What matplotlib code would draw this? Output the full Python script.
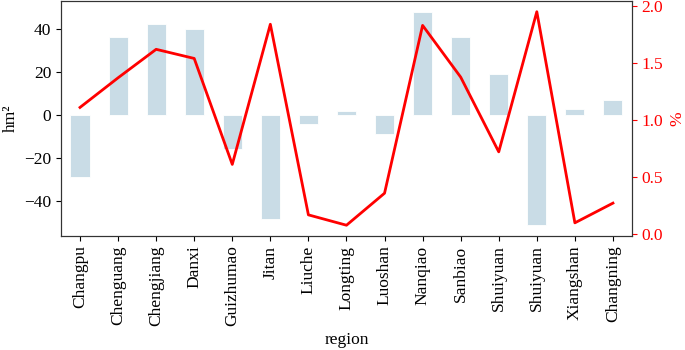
import matplotlib
matplotlib.use("Agg")
import matplotlib.pyplot as plt
import numpy as np

plt.rcParams['font.family'] = ['Liberation Serif', 'DejaVu Serif']
plt.rcParams['font.size'] = 12.5

regions = ["Changpu", "Chenguang", "Chengjiang", "Danxi", "Guizhumao", "Jitan",
           "Liuche", "Longting", "Luoshan", "Nanqiao", "Sanbiao", "Shuiyuan",
           "Shuiyuan", "Xiangshan", "Changning"]
area_change = [-29.0, 36.0, 42.3, 40.0, -15.9, -48.4, -4.3, 1.6, -9.0, 47.9,
               36.0, 18.9, -51.4, 2.6, 6.9]
percent = [1.11, 1.37, 1.62, 1.54, 0.61, 1.84, 0.167, 0.076, 0.357, 1.83,
           1.376, 0.72, 1.95, 0.097, 0.27]

fig = plt.figure(figsize=(6.85, 3.5), dpi=100)
ax = fig.add_axes([0.089, 0.326, 0.8336, 0.671])
x = np.arange(len(regions))
ax.bar(x, area_change, width=0.5, color='#c9dce6', edgecolor='white', linewidth=0.6)
ax.set_xlim(-0.5, len(regions) - 0.5)
ax.set_xticks(x)
ax.set_xticklabels(regions, rotation=90)
ax.set_ylabel('hm²')
ax.set_xlabel('region')
ax.set_yticks([-40, -20, 0, 20, 40])
for s in ax.spines.values():
    s.set_color('#333333')

ax2 = ax.twinx()
ax2.plot(x, percent, color='red', linewidth=2)
ax2.set_ylabel('%', color='red')
ax2.tick_params(axis='y', colors='red')
ax2.set_yticks([0.0, 0.5, 1.0, 1.5, 2.0])
for s in ax2.spines.values():
    s.set_color('#333333')

fig.savefig('out.png', dpi=100)
